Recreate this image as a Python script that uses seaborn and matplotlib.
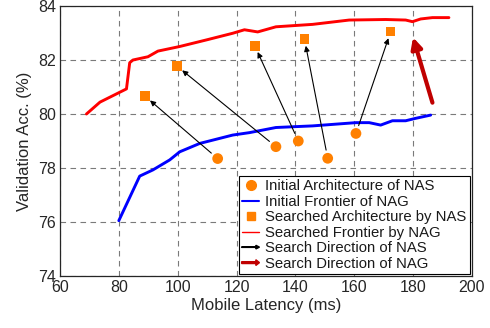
import numpy as np
import pandas as pd
import matplotlib
matplotlib.use("Agg")
import matplotlib.pyplot as plt
import matplotlib.patches as mpatches
from matplotlib.lines import Line2D
from matplotlib.legend_handler import HandlerPatch
import seaborn as sns

# Searched frontier (NAG)
red_lat = [69.0, 73.6, 82.6, 83.7, 84.8, 89.9, 93.3, 100.7, 110.0, 118.7, 122.7,
           127.2, 133.4, 145.9, 158.3, 170.7, 177.5, 179.8, 182.6, 186.6, 192.2]
red_acc = [80.00, 80.44, 80.93, 81.90, 82.00, 82.12, 82.33, 82.50, 82.75, 82.99, 83.12,
           83.04, 83.23, 83.32, 83.48, 83.50, 83.48, 83.42, 83.52, 83.57, 83.57]

# Initial frontier (NAG)
blue_lat = [80.0, 87.1, 91.6, 97.3, 100.7, 107.5, 118.7, 124.4, 133.4, 145.9,
            160.6, 165.1, 169.0, 173.0, 177.5, 180.9, 186.0]
blue_acc = [76.05, 77.70, 77.93, 78.30, 78.60, 78.91, 79.22, 79.31, 79.50, 79.56,
            79.68, 79.68, 79.59, 79.75, 79.75, 79.84, 79.96]

# Initial architectures of NAS and where the search ended up
init_lat = [113.6, 133.4, 141.0, 151.0, 160.6]
init_acc = [78.35, 78.79, 79.00, 78.36, 79.28]
srch_lat = [88.8, 99.7, 126.2, 143.1, 172.4]
srch_acc = [80.67, 81.78, 82.53, 82.78, 83.05]

# NAG search direction arrow (tail, head)
nag_tail = (186.6, 80.42)
nag_head = (180.0, 82.84)

xticks = [60, 80, 100, 120, 140, 160, 180, 200]
yticks = [74, 76, 78, 80, 82, 84]

sns.set_theme(style="white")
plt.rcParams["font.family"] = ["Liberation Sans", "DejaVu Sans"]

ORANGE = "#FF8000"
DARKRED = "#C00000"

fig = plt.figure(figsize=(4.9, 3.28), dpi=100)
ax = fig.add_axes([0.1224, 0.1585, 0.8406, 0.8232])

df_red = pd.DataFrame({"lat": red_lat, "acc": red_acc})
df_blue = pd.DataFrame({"lat": blue_lat, "acc": blue_acc})
df_init = pd.DataFrame({"lat": init_lat, "acc": init_acc})
df_srch = pd.DataFrame({"lat": srch_lat, "acc": srch_acc})

sns.lineplot(data=df_red, x="lat", y="acc", ax=ax, color="red", lw=2.1,
             sort=False, estimator=None, zorder=3)
sns.lineplot(data=df_blue, x="lat", y="acc", ax=ax, color="blue", lw=2.1,
             sort=False, estimator=None, zorder=3)

# NAS search arrows from initial to searched architectures
for x0, y0, x1, y1 in zip(init_lat, init_acc, srch_lat, srch_acc):
    ax.annotate("", xy=(x1, y1), xytext=(x0, y0),
                arrowprops=dict(arrowstyle="-|>", color="black", lw=0.8,
                                mutation_scale=8, shrinkA=6, shrinkB=5),
                zorder=4)

sns.scatterplot(data=df_init, x="lat", y="acc", ax=ax, color=ORANGE, marker="o",
                s=60, edgecolor="none", zorder=5)
sns.scatterplot(data=df_srch, x="lat", y="acc", ax=ax, color=ORANGE, marker="s",
                s=48, edgecolor="none", zorder=5)

ax.annotate("", xy=nag_head, xytext=nag_tail,
            arrowprops=dict(arrowstyle="-|>", color=DARKRED, lw=3.0,
                            mutation_scale=16, shrinkA=0, shrinkB=0),
            zorder=4)

ax.set_xlim(60, 200)
ax.set_ylim(74, 84)
ax.set_xticks(xticks)
ax.set_yticks(yticks)
ax.tick_params(axis="both", labelsize=11.5, colors="#262626", direction="in",
               length=3, width=0.6, pad=3)
ax.set_xlabel("Mobile Latency (ms)", fontsize=12, color="#262626", labelpad=2)
ax.set_ylabel("Validation Acc. (%)", fontsize=12, color="#262626", labelpad=4)
ax.grid(True, color="#7a7a7a", linestyle=(0, (5, 4)), lw=0.8)
for sp in ax.spines.values():
    sp.set_color("#262626")
    sp.set_linewidth(0.9)


def arrow_handler(shaft, head):
    def make(legend, orig_handle, xdescent, ydescent, width, height, fontsize):
        return mpatches.FancyArrow(0, 0.5 * height, width, 0, length_includes_head=True,
                                   head_width=head * height, head_length=0.35 * height,
                                   width=shaft * height)
    return HandlerPatch(patch_func=make)


arrow_nas = mpatches.FancyArrow(0, 0, 1, 0, color="black")
arrow_nag = mpatches.FancyArrow(0, 0, 1, 0, color=DARKRED)

handles = [
    Line2D([], [], color=ORANGE, marker="o", linestyle="none", markersize=7),
    Line2D([], [], color="blue", lw=1.5),
    Line2D([], [], color=ORANGE, marker="s", linestyle="none", markersize=6),
    Line2D([], [], color="red", lw=1.0),
    arrow_nas,
    arrow_nag,
]
labels = ["Initial Architecture of NAS", "Initial Frontier of NAG",
          "Searched Architecture by NAS", "Searched Frontier by NAG",
          "Search Direction of NAS", "Search Direction of NAG"]
leg = ax.legend(handles, labels, loc="lower right", fontsize=10.7,
                handlelength=1.2, handletextpad=0.4, labelspacing=0.1,
                borderpad=0.2, borderaxespad=0.15, frameon=True, fancybox=False,
                handler_map={arrow_nas: arrow_handler(0.05, 0.35),
                             arrow_nag: arrow_handler(0.18, 0.55)})
leg.get_frame().set_edgecolor("black")
leg.get_frame().set_linewidth(0.8)
leg.get_frame().set_alpha(1.0)
for t in leg.get_texts():
    t.set_color("#1a1a1a")

fig.savefig("out.png", dpi=100)
